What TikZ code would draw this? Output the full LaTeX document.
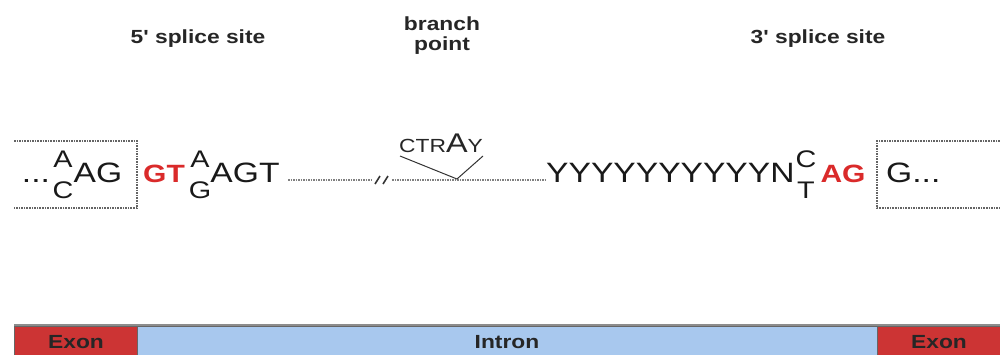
\documentclass[tikz,border=0pt]{standalone}
\usepackage{fontspec}
\setmainfont{Liberation Sans}
\newfontfamily\seqfont[FakeStretch=1.2]{Liberation Sans}
\definecolor{spred}{RGB}{218,42,42}
\definecolor{exred}{RGB}{204,52,52}
\definecolor{inblue}{RGB}{168,200,238}
\definecolor{boxgray}{RGB}{100,100,100}
\tikzset{
  seq/.style={inner sep=0pt, anchor=base, text=black!90, font=\seqfont\fontsize{28}{28}\selectfont},
  stk/.style={inner sep=0pt, anchor=base, text=black!90, font=\seqfont\fontsize{24}{24}\selectfont},
  redseq/.style={inner sep=0pt, anchor=base, text=spred, font=\seqfont\bfseries\fontsize{25}{25}\selectfont},
  toplabel/.style={inner sep=0pt, anchor=base, align=center, text=black!85, font=\seqfont\bfseries\fontsize{19}{21}\selectfont},
  barlabel/.style={inner sep=0pt, anchor=base, text=black!85, font=\seqfont\bfseries\fontsize{19}{19}\selectfont},
  exonbox/.style={draw=black!60, fill=exred, line width=0.6pt},
  intronbox/.style={draw=black!60, fill=inblue, line width=0.6pt},
  dotbox/.style={draw=boxgray, densely dotted, line width=1.6pt},
  dotline/.style={draw=black!50, densely dotted, line width=1.5pt},
  vline/.style={draw=black!80, line width=1pt},
  brk/.style={draw=black!80, line width=1.6pt}
}
\begin{document}
\begin{tikzpicture}[x=1pt,y=-1pt]
\useasboundingbox (0,0) rectangle (1000,354);

% top labels
\node[toplabel] (l5) at (198,43) {5' splice site};
\node[toplabel] (lbp) at (442,30) {branch};
\node[toplabel] (lbp2) at (442,50) {point};
\node[toplabel] (l3) at (818,43) {3' splice site};

% left exon box
\coordinate (lb1) at (14,141);
\coordinate (lb2) at (137,141);
\coordinate (lb3) at (137,208);
\coordinate (lb4) at (14,208);
\draw[dotbox] (lb1) -- (lb2) -- (lb3) -- (lb4);

% right exon box
\coordinate (rb1) at (1000,141);
\coordinate (rb2) at (877,141);
\coordinate (rb3) at (877,208);
\coordinate (rb4) at (1000,208);
\draw[dotbox] (rb1) -- (rb2) -- (rb3) -- (rb4);

% 5' side sequence
\node[seq] (dots1) at (36,182) {...};
\node[stk] (a1) at (63,167) {A};
\node[stk] (c1) at (63,198) {C};
\node[seq] (ag1) at (98,182) {AG};
\node[redseq] (gt) at (164,182) {GT};
\node[stk] (a2) at (200,167) {A};
\node[stk] (g2) at (200,198) {G};
\node[seq] (agt) at (245,182) {AGT};

% intron line with break
\coordinate (d1) at (288,180);
\coordinate (d2) at (372,180);
\coordinate (d3) at (392,180);
\coordinate (d4) at (545,180);
\draw[dotline] (d1) -- (d2);
\draw[dotline] (d3) -- (d4);
\coordinate (s1a) at (375,184);
\coordinate (s1b) at (380,176);
\coordinate (s2a) at (383,184);
\coordinate (s2b) at (388,176);
\draw[brk] (s1a) -- (s1b);
\draw[brk] (s2a) -- (s2b);

% branch point
\node[inner sep=0pt, anchor=base, text=black!85] (ctray) at (441,152)
  {\seqfont\fontsize{19}{19}\selectfont CTR\fontsize{27}{27}\selectfont A\fontsize{19}{19}\selectfont Y};
\coordinate (v1) at (400,156);
\coordinate (v2) at (457,179);
\coordinate (v3) at (483,156);
\draw[vline] (v1) -- (v2) -- (v3);

% 3' side sequence
\node[seq, anchor=base west] (ys) at (546,182) {YYYYYYYYYYN};
\node[stk] (c3) at (806,167) {C};
\node[stk] (t3) at (806,198) {T};
\node[redseq] (ag3) at (843,182) {AG};
\node[seq, anchor=base west] (g3) at (886,182) {G...};

% bottom bar
\draw[black!45, line width=1.2pt] (14,325) -- (1000,325);
\path[exonbox] (14,326) rectangle (137,356);
\path[intronbox] (137,326) rectangle (877,356);
\path[exonbox] (877,326) rectangle (1002,356);
\node[barlabel] (ex1) at (76,348) {Exon};
\node[barlabel] (intr) at (507,348) {Intron};
\node[barlabel] (ex2) at (939,348) {Exon};
\end{tikzpicture}
\end{document}
